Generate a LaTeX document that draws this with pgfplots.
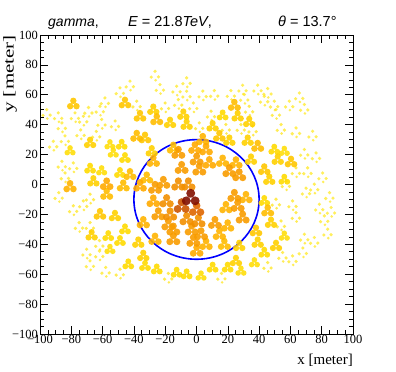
\documentclass[border=0pt]{standalone}
\usepackage{fontspec}
\setmainfont{Liberation Serif}
\newfontfamily\helv{Liberation Sans}
\usepackage{pgfplots}
\pgfplotsset{compat=1.18}
\usepackage{pgfplotstable}

% telescope image blobs: three overlapping dots, or a few small loose dots
\pgfdeclareplotmark{trefoil}{%
  \pgfpathcircle{\pgfpoint{0pt}{0.9\pgfplotmarksize}}{0.8\pgfplotmarksize}%
  \pgfpathcircle{\pgfpoint{-0.8\pgfplotmarksize}{-0.47\pgfplotmarksize}}{0.8\pgfplotmarksize}%
  \pgfpathcircle{\pgfpoint{0.8\pgfplotmarksize}{-0.47\pgfplotmarksize}}{0.8\pgfplotmarksize}%
  \pgfusepathqfill}
\pgfdeclareplotmark{sparse}{%
  \pgfpathcircle{\pgfpoint{0pt}{1.3\pgfplotmarksize}}{0.62\pgfplotmarksize}%
  \pgfpathcircle{\pgfpoint{-1.3\pgfplotmarksize}{-0.7\pgfplotmarksize}}{0.62\pgfplotmarksize}%
  \pgfpathcircle{\pgfpoint{1.2\pgfplotmarksize}{-0.6\pgfplotmarksize}}{0.62\pgfplotmarksize}%
  \pgfpathcircle{\pgfpoint{0.2\pgfplotmarksize}{-1.8\pgfplotmarksize}}{0.5\pgfplotmarksize}%
  \pgfusepathqfill}

% outer, weak images
\pgfplotstableread{
x y c
-88.3 45.4 0.08
-77.6 45.4 0.08
-72.3 43.1 0.1
-95.7 47.6 0.06
-86 38.7 0.08
-69 49 0.08
-61.7 49.8 0.08
-60.6 41 0.1
-58.5 55.4 0.08
-48.9 62.1 0.06
-42.5 66.6 0.06
-38.2 53.2 0.1
-26.5 73.2 0.06
-23.3 64.3 0.08
-12.7 63.2 0.08
-11.6 54.3 0.1
-6.3 68.8 0.06
-6.3 59.9 0.08
-2 52 0.1
11.4 60.3 0.08
22 60.3 0.08
29.5 63.9 0.06
30.6 57.7 0.08
39.1 63.9 0.06
45.5 61.7 0.06
43.3 56.5 0.08
49.7 53.2 0.08
59.3 53.2 0.06
65.7 58.7 0.06
68.9 51 0.06
9.3 46.5 0.12
33.7 49.8 0.12
50.8 47.6 0.1
1.8 38.7 0.14
18.8 37.6 0.14
28.4 37.6 0.12
35.9 36.5 0.12
54 37.6 0.1
63.6 35.3 0.08
74.2 33.1 0.06
68.9 20.9 0.08
76.4 18.6 0.06
63.6 8.6 0.1
71 8.6 0.08
80.6 5.2 0.06
57.2 -0.1 0.12
75.3 -2.3 0.08
50.8 -12.4 0.12
61.4 -13.5 0.1
63.6 -21.3 0.1
54 -26.9 0.12
68.9 -35.8 0.08
75.3 -38 0.06
78.5 -15.7 0.06
81.7 -23.5 0.06
86 -17.9 0.05
83.8 -32.4 0.05
45.5 -54.7 0.1
55 -48 0.1
61.4 -50.3 0.08
-91.5 26.4 0.06
-86 13 0.08
-78.7 11.9 0.08
-84 5.2 0.08
-78.7 -16.8 0.1
-68 -9 0.12
-72.3 -13.5 0.1
-68 -28 0.12
-70.2 -45.8 0.1
-68 -53.6 0.08
-48.9 -59.2 0.1
-62 -47 0.1
-58 -58 0.08
-18 -62 0.12
16 -62 0.1
-84 30 0.08
-74 34 0.08
-64 33 0.1
-52 40 0.1
-88 -8 0.08
-75 -28 0.08
-62 -40 0.1
-20 52 0.1
4 60 0.08
70 -5 0.08
68 -45 0.08
85 -8 0.05
}\outer

% bright images, sorted by intensity
\pgfplotstableread{
x y c s
-55.3 -43.6 0.2 3.5
28.4 -58.1 0.2 3.5
2.9 -61.4 0.2 3.5
37 -52.5 0.2 3.5
56.1 -34.7 0.2 3.5
-55.3 26.4 0.2 3.5
-53.2 20.9 0.2 3.5
-60.6 9 0.2 3.5
-80.8 22.4 0.2 3.5
56.1 22 0.2 3.5
-56.4 -34.7 0.25 3.7
-45.7 -30.2 0.25 3.7
-48.9 -38 0.25 3.7
-43.6 -53.6 0.25 3.7
-32.9 -54.7 0.25 3.7
-25.4 -57 0.25 3.7
-12.7 -59.2 0.25 3.7
-6.3 -60.3 0.25 3.7
19.9 -55.8 0.25 3.7
10.3 -55.8 0.25 3.7
43.3 -45.8 0.25 3.7
43.3 -11.2 0.25 3.7
-47.8 26.4 0.25 3.7
-45.7 17.5 0.25 3.7
-48.9 7.5 0.25 3.7
-68 10.4 0.25 3.7
16.7 46 0.25 3.7
56.1 3 0.25 3.7
49.7 23.1 0.25 3.7
-52.1 -21.3 0.3 3.9
-67 -34.2 0.3 3.9
-37.2 -39.1 0.3 3.9
-34 -48 0.3 3.9
25.2 -51.4 0.3 3.9
50.8 -41.3 0.3 3.9
47.6 -25.8 0.3 3.9
27.3 -41.3 0.3 3.9
39.1 -39.1 0.3 3.9
-68 27.6 0.3 3.9
-65.9 1.9 0.3 3.9
-28.6 22 0.3 3.9
-27.6 49.8 0.3 3.9
-16.9 41 0.3 3.9
-8.4 46.5 0.3 3.9
-6.3 39.8 0.3 3.9
21 29.1 0.3 3.9
26.3 45.4 0.3 3.9
33.7 41.6 0.3 3.9
10.3 38.7 0.3 3.9
46.5 3 0.3 3.9
51.9 16.4 0.3 3.9
32.7 29.1 0.3 3.9
34.8 16.4 0.3 3.9
-61.7 -20.2 0.35 4.0
38 -31.3 0.35 4.0
-32.9 30.9 0.35 4.0
-36.1 45.4 0.35 4.0
-45.7 54.3 0.35 4.0
-78.7 53.6 0.35 4.0
14.6 32 0.35 4.0
43.3 9.7 0.35 4.0
60.4 14.8 0.35 4.0
-57.4 -6.8 0.4 4.1
-46.8 -1.2 0.4 4.1
45.5 -17.9 0.4 4.1
17.8 -40.3 0.4 4.1
-14.8 24.1 0.4 4.1
-31.8 4.1 0.4 4.1
-42.5 6.4 0.4 4.1
-38.2 32 0.4 4.1
-25.4 43.1 0.4 4.1
39.1 25.3 0.4 4.1
24.2 52.7 0.4 4.1
-80.8 -1.7 0.45 4.2
-34 -25.8 0.45 4.2
-26.5 -36.9 0.45 4.2
31.6 -9 0.45 4.2
19.9 -28 0.45 4.2
14.6 -33.6 0.45 4.2
6.1 -40.3 0.45 4.2
18.8 -15.7 0.45 4.2
-27.6 15.3 0.45 4.2
4 29.8 0.45 4.2
16.7 15.3 0.45 4.2
25.2 14.2 0.45 4.2
-57.4 -0.1 0.5 4.3
-27.6 -11.5 0.5 4.3
-36.1 -1.2 0.5 4.3
0.1 -44.7 0.5 4.3
-1 24.1 0.5 4.3
8.2 14.2 0.5 4.3
6.1 23.1 0.5 4.3
-21.2 0.8 0.55 4.4
-26.5 -2.5 0.55 4.4
-14.8 -30.4 0.55 4.4
-3.1 -30.4 0.55 4.4
-24.4 -20.2 0.55 4.4
-18 -27 0.55 4.4
11.8 -26 0.55 4.4
-14.8 -36.9 0.55 4.4
-2 -38 0.55 4.4
24.2 -7.9 0.55 4.4
26.3 -14.6 0.55 4.4
29.5 -22.4 0.55 4.4
2.9 -33.6 0.55 4.4
-9.5 10.8 0.55 4.4
0.1 16.4 0.55 4.4
1.8 9.7 0.55 4.4
-11.6 20.9 0.55 4.4
21 8.6 0.55 4.4
27.3 5.9 0.55 4.4
-11.6 -0.3 0.6 4.5
-5.2 -0.3 0.6 4.5
1.2 -24.9 0.6 4.5
-19.1 -11.5 0.6 4.5
-16.9 -20.4 0.6 4.5
-6.3 -23.5 0.6 4.5
0.1 -17 0.75 4.8
-9.5 -14.8 0.8 5.0
-3.7 -9.2 1.0 5.6
}\inner

\begin{document}
\begin{tikzpicture}
\useasboundingbox (-40bp,-38bp) rectangle (356bp,334bp);
\begin{axis}[
    at={(0bp,0bp)}, anchor=south west,
    scale only axis, width=313bp, height=299bp,
    xmin=-100, xmax=100, ymin=-100, ymax=100,
    xtick={-100,-80,...,100}, ytick={-100,-80,...,100},
    xticklabels={−100,−80,−60,−40,−20,0,20,40,60,80,100},
    yticklabels={−100,−80,−60,−40,−20,0,20,40,60,80,100},
    minor x tick num=3, minor y tick num=3,
    tick align=inside,
    major tick length=8bp, minor tick length=4bp,
    tick style={black, line width=0.6bp},
    axis line style={black, line width=0.8bp},
    xticklabel style={font=\fontsize{12.5bp}{14bp}\selectfont, anchor=north, inner sep=0pt, yshift=-1bp},
    yticklabel style={font=\fontsize{12.5bp}{14bp}\selectfont, anchor=east, inner sep=0pt, xshift=-2bp},
    colormap={heat}{rgb255(0)=(255,238,50) rgb255(0.25)=(255,218,0)
        rgb255(0.5)=(255,170,0) rgb255(0.75)=(222,102,0) rgb255(1)=(130,15,0)},
    point meta min=0, point meta max=1,
]
\addplot[scatter, only marks, mark=sparse, mark size=2.9pt, fill opacity=0.75,
    point meta=\thisrow{c}] table[x=x, y=y] {\outer};
\addplot[scatter, only marks, mark=trefoil, fill opacity=0.9,
    point meta=\thisrow{c},
    visualization depends on={\thisrow{s} \as \ms},
    scatter/@pre marker code/.append style={/tikz/mark size=\ms pt}]
    table[x=x, y=y] {\inner};
\draw[color=blue, line width=1.6bp] (axis cs:0,-10) ellipse [x radius=40, y radius=40];
\end{axis}
% titles
\node[anchor=base west, inner sep=0pt, font=\helv\fontsize{14bp}{17bp}\selectfont] at (8bp,307bp) {\itshape gamma\upshape,};
\node[anchor=base west, inner sep=0pt, font=\helv\fontsize{14.5bp}{17bp}\selectfont] at (88bp,307bp) {\itshape E\upshape{} = 21.8\itshape TeV\upshape,};
\node[anchor=base west, inner sep=0pt, font=\helv\fontsize{14.5bp}{17bp}\selectfont] at (238bp,307bp) {\itshape θ\upshape{} = 13.7°};
\node[anchor=base east, inner sep=0pt, font=\fontsize{15bp}{17bp}\selectfont] at (313bp,-30bp) {x [meter]};
\node[rotate=90, anchor=north east, inner sep=0pt, font=\fontsize{15bp}{17bp}\selectfont] at (-37bp,299bp) {\scalebox{1.4}[1]{y [meter]}};
\end{tikzpicture}
\end{document}
